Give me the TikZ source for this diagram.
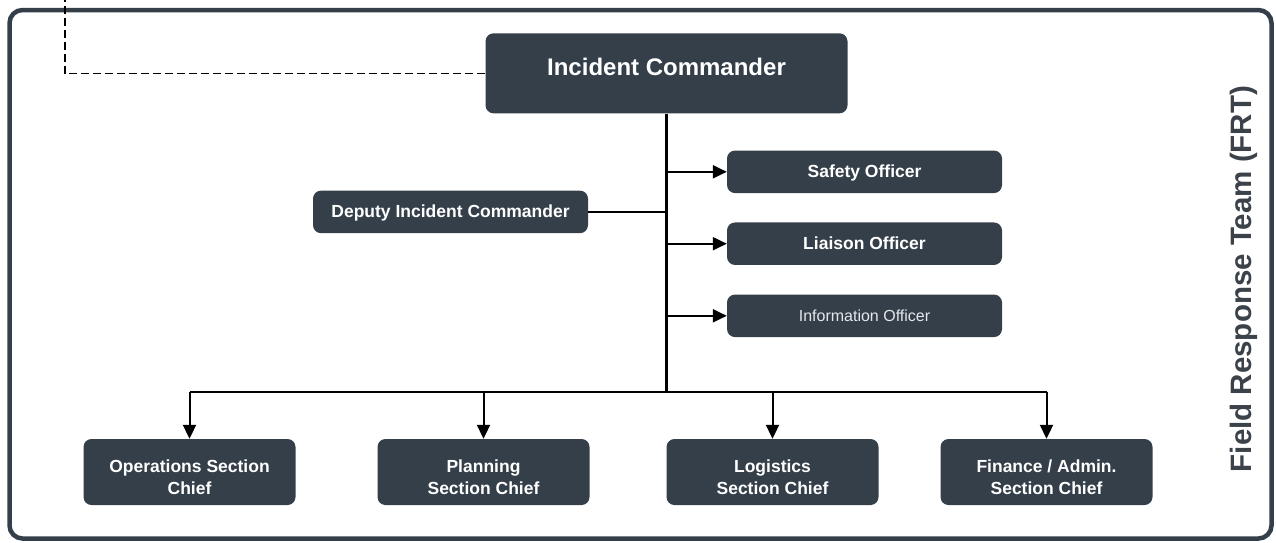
\documentclass[tikz,border=0pt]{standalone}
\usepackage{fontspec}
\setmainfont{Liberation Sans}
\usetikzlibrary{arrows.meta}
\definecolor{slate}{HTML}{343F4A}
\definecolor{frtgray}{HTML}{3B4249}
\definecolor{softwhite}{HTML}{E6E8EA}
\begin{document}
\begin{tikzpicture}[x=1pt,y=-1pt,
  box/.style={fill=slate, draw=none, rounded corners=8pt, inner sep=0pt},
  wide/.style={box, minimum width=362pt, minimum height=80pt},
  side/.style={box, minimum width=275pt, minimum height=42.5pt},
  chief/.style={box, minimum width=212pt, minimum height=66pt},
  bigtxt/.style={text=white, font=\fontsize{24}{28}\selectfont\bfseries, inner sep=0pt},
  txt/.style={text=white, font=\fontsize{17.5}{21.7}\selectfont\bfseries, inner sep=0pt, align=center},
  thintxt/.style={text=softwhite, font=\fontsize{16}{19}\selectfont, inner sep=0pt},
  trunkline/.style={draw=black, line width=3pt},
  conn/.style={draw=black, line width=2pt},
  arr/.style={conn, -{Triangle[length=14pt,width=13pt]}},
  dashline/.style={draw=black, line width=1.6pt, dash pattern=on 8pt off 4pt},
  frame/.style={draw=slate, line width=4.5pt, rounded corners=13pt}
]
\useasboundingbox (0,0) rectangle (1276,542);
\begin{scope}
\clip (0,0) rectangle (1276,542);
\draw[frame] (9.5,10) rectangle (1271.5,538.5);
\end{scope}

% boxes
\node[wide] (ic) at (666.5,73.3) {};
\node[bigtxt, anchor=base] (icT) at (666.5,75) {Incident Commander};

\node[side] (saf) at (864.5,171.8) {};
\node[txt, anchor=base] (safT) at (864.5,177.8) {Safety Officer};
\node[side] (lia) at (864.5,243.7) {};
\node[txt, anchor=base] (liaT) at (864.5,249.7) {Liaison Officer};
\node[side] (inf) at (864.5,315.8) {};
\node[thintxt, anchor=base] (infT) at (864.5,321.5) {Information Officer};
\node[side] (dep) at (450.5,211.9) {};
\node[txt, anchor=base] (depT) at (450.5,217.9) {Deputy Incident Commander};

\node[chief] (ops) at (189.5,472) {};
\node[txt] (opsT) at (189.5,477.5) {Operations Section\\Chief};
\node[chief] (pla) at (483.5,472) {};
\node[txt] (plaT) at (483.5,477.5) {Planning\\Section Chief};
\node[chief] (log) at (772.5,472) {};
\node[txt] (logT) at (772.5,477.5) {Logistics\\Section Chief};
\node[chief] (fin) at (1046.5,472) {};
\node[txt] (finT) at (1046.5,477.5) {Finance / Admin.\\Section Chief};

\node[rotate=90, text=frtgray, font=\fontsize{29.5}{33}\selectfont\bfseries, inner sep=0pt] (frt) at (1244,279) {Field Response Team (FRT)};

% connectors
\coordinate (bus) at (666.5,392.3);
\coordinate (dtop) at (65,0);
\draw[dashline] (ic.west) -| (dtop);
\draw[trunkline] (ic.south) -- (bus);
\draw[arr] (ic.south |- saf.west) -- (saf.west);
\draw[arr] (ic.south |- lia.west) -- (lia.west);
\draw[arr] (ic.south |- inf.west) -- (inf.west);
\draw[conn] (dep.east) -- (ic.south |- dep.east);
\draw[conn] (ops.north |- bus) -- (fin.north |- bus);
\draw[arr] (ops.north |- bus) -- (ops.north);
\draw[arr] (pla.north |- bus) -- (pla.north);
\draw[arr] (log.north |- bus) -- (log.north);
\draw[arr] (fin.north |- bus) -- (fin.north);
\end{tikzpicture}
\end{document}
